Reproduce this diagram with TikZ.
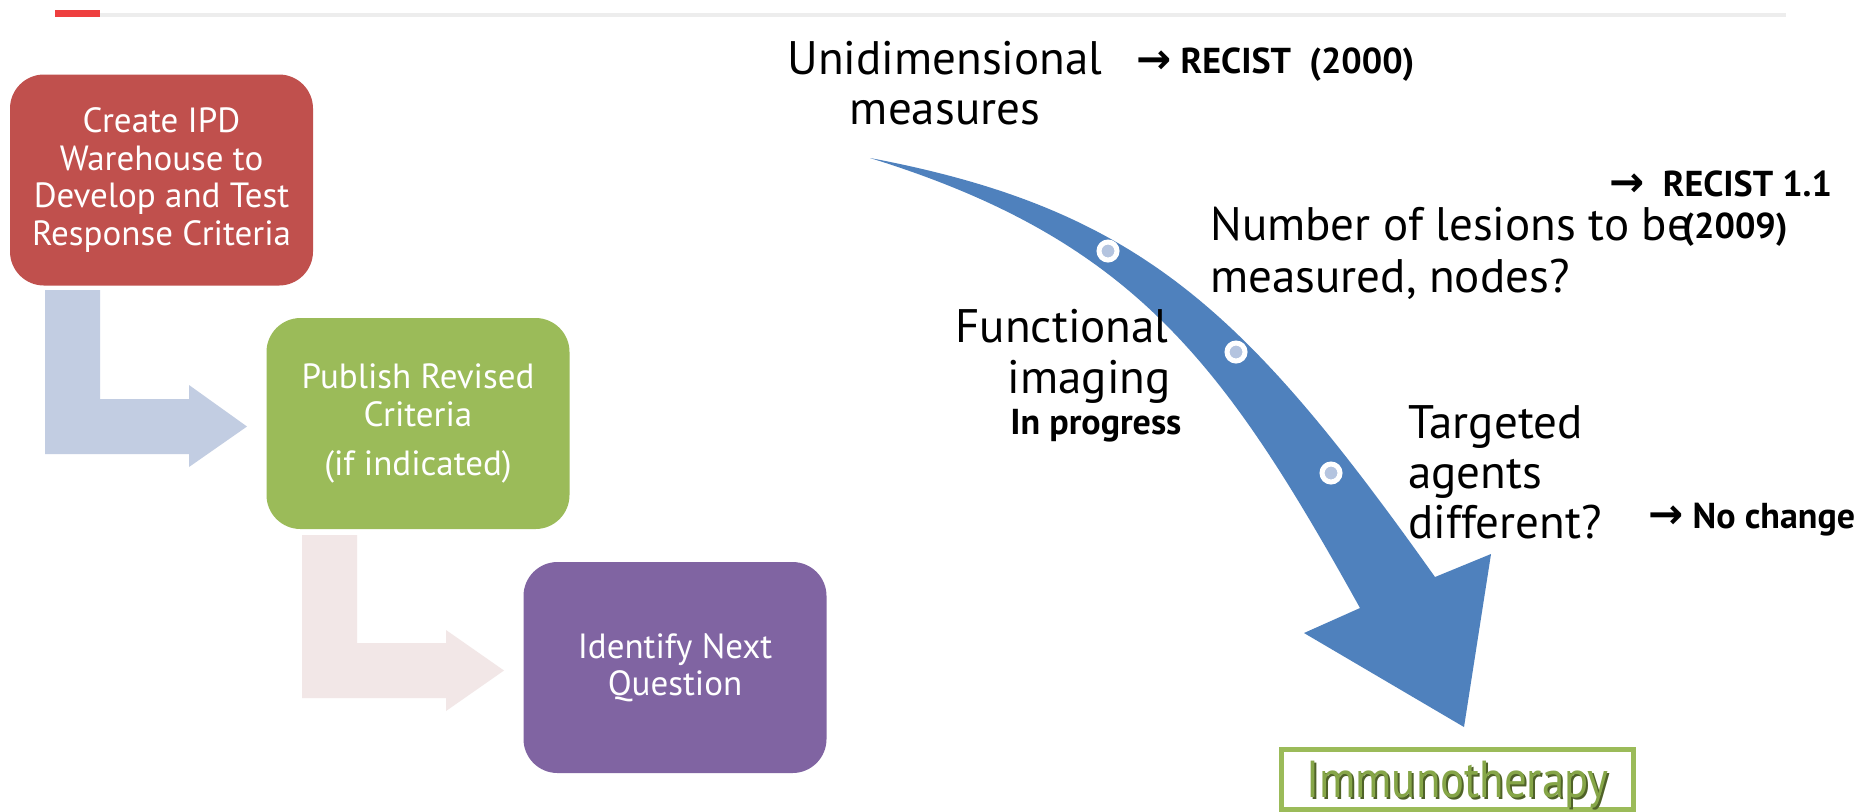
\documentclass[tikz,border=0pt]{standalone}
\usepackage{fontspec}
\setmainfont{PT Sans}
\newfontfamily\arrowfont{DejaVu Sans}
\newfontfamily\immfont[FakeStretch=0.86]{PT Sans}
\definecolor{redbox}{HTML}{C0504D}
\definecolor{greenbox}{HTML}{9BBB59}
\definecolor{purplebox}{HTML}{8064A2}
\definecolor{bluearrow}{HTML}{4F81BD}
\definecolor{paleblue}{HTML}{C2CDE2}
\definecolor{palepink}{HTML}{F2E7E7}
\definecolor{dotfill}{HTML}{B4C4DF}
\definecolor{rulered}{HTML}{EE3F3F}
\definecolor{rulegray}{HTML}{EDEDED}
\definecolor{immlight}{HTML}{86A648}
\definecolor{immdark}{HTML}{4F6228}
\newcommand{\rarr}{{\arrowfont\bfseries\fontsize{21}{20}\selectfont →}}
\begin{document}
\begin{tikzpicture}[x=0.5pt,y=-0.5pt,
  stepbox/.style={rectangle, rounded corners=17pt, minimum width=151.5pt,
    minimum height=105.5pt, inner sep=0pt, align=center, text=white,
    font=\fontsize{17.5}{18.7}\selectfont},
  bigtext/.style={font=\fontsize{23.5}{26}\selectfont, inner sep=0pt},
  notetext/.style={font=\fontsize{18}{20}\selectfont\bfseries, inner sep=0pt},
  dot/.style={circle, fill=dotfill, draw=white, line width=2.5pt,
    minimum size=9pt, inner sep=0pt},
  immtext/.style={font=\immfont\fontsize{26}{28}\selectfont, inner sep=0pt}]

% canvas
\fill[white] (0,0) rectangle (1866,811);
\useasboundingbox (0,0) rectangle (1866,811);

% header rule
\fill[rulegray] (100,13) rectangle (1786,17);
\fill[rulered] (55,10) rectangle (100,17);

% process boxes
\node[stepbox, fill=redbox] (create) at (161.5,180)
  {Create IPD\\Warehouse to\\Develop and Test\\Response Criteria};
\node[stepbox, fill=greenbox] (publish) at (418,423.5)
  {Publish Revised\\Criteria\\[6pt](if indicated)};
\node[stepbox, fill=purplebox] (identify) at (675,667.5)
  {Identify Next\\Question};

% bent block arrows between the boxes
\fill[paleblue] (45,290) -- (100,290) -- (100,399) -- (189,399) -- (189,385)
  -- (247,426.5) -- (189,467) -- (189,454) -- (45,454) -- cycle;
\fill[palepink] (302,535) -- (357,535) -- (357,643) -- (446,643) -- (446,630)
  -- (504,670.5) -- (446,711) -- (446,698) -- (302,698) -- cycle;

% large curved arrow: outer edge, head, inner edge back to the tail point
\coordinate (tail) at (870,158);
\fill[bluearrow] (tail)
  .. controls (1140,209) and (1246,311) .. (1435,577)
  -- (1491,554) -- (1464,727) -- (1304,633) -- (1360,608)
  .. controls (1225,365) and (1135,240) .. (tail) -- cycle;

% milestones on the arrow
\node[dot] (m1) at (1108,251) {};
\node[dot] (m2) at (1236,352) {};
\node[dot] (m3) at (1331,473) {};

% labels along the arrow
\node[bigtext, anchor=base] (uniA) at (945,74) {Unidimensional};
\node[bigtext, anchor=base] (uniB) at (945,124) {measures};
\node[notetext, anchor=base west] (recist) at (1136,73) {\rarr\ RECIST~~(2000)};

\node[notetext, anchor=base west] (recistB) at (1609,196) {\rarr~~RECIST 1.1};
\node[bigtext, anchor=base west] (lesA) at (1210,240) {Number of lesions to be};
\node[bigtext, anchor=base west] (lesB) at (1210,292) {measured, nodes?};
\node[notetext, anchor=base west] (recistC) at (1682,238) {(2009)};

\node[bigtext, anchor=base east] (funcA) at (1169,342) {Functional};
\node[bigtext, anchor=base east] (funcB) at (1171,393) {imaging};
\node[notetext, anchor=base west] (prog) at (1010,434) {In progress};

\node[bigtext, anchor=base west] (targA) at (1408,438) {Targeted};
\node[bigtext, anchor=base west] (targB) at (1408,488) {agents};
\node[bigtext, anchor=base west] (targC) at (1408,538) {different?};
\node[notetext, anchor=base west] (nochange) at (1648,528) {\rarr\ No change};

% destination
\node[draw=greenbox, line width=2.5pt, fill=white, minimum width=176pt,
  minimum height=30pt, inner sep=0pt] (immbox) at (1457.5,779) {};
\node[immtext, text=immdark, anchor=base] (immshade) at (1459.5,799.5) {Immunotherapy};
\node[immtext, text=immlight, anchor=base] (imm) at (1457.5,797.5) {Immunotherapy};
\end{tikzpicture}
\end{document}
